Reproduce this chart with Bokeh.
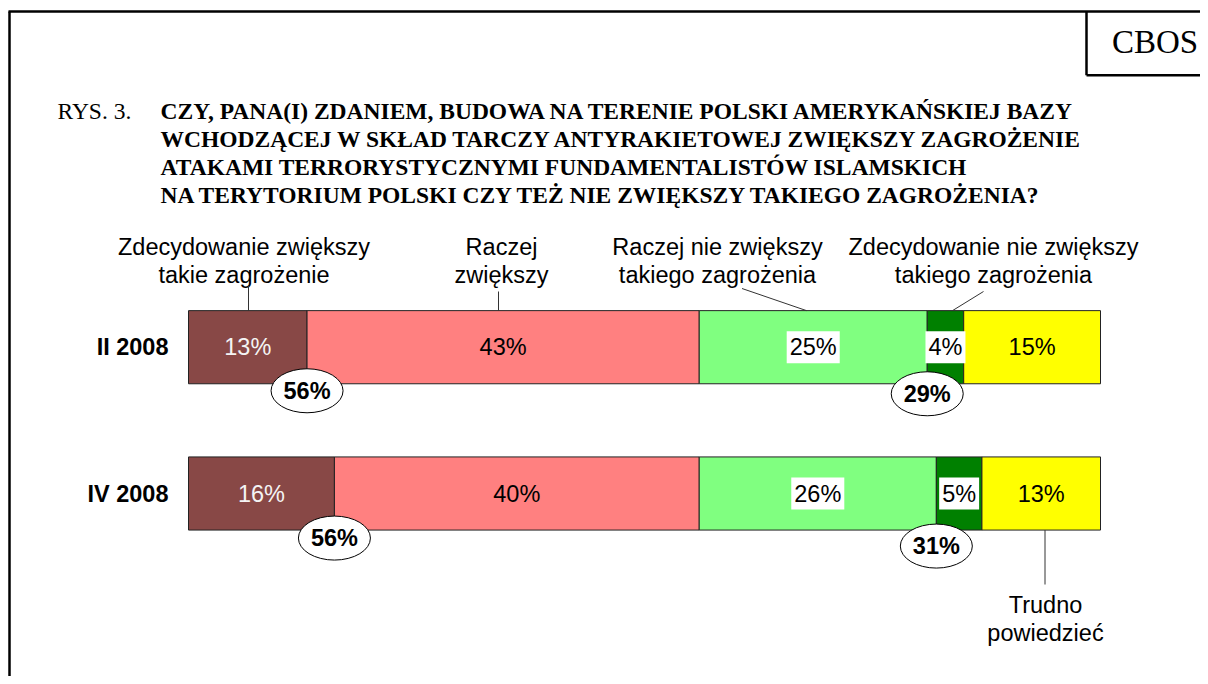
from bokeh.plotting import figure
from bokeh.models import Range1d
from bokeh.core.properties import value
from bokeh.embed import file_html
from bokeh.resources import INLINE

# ---------------- data ----------------
periods = ["II 2008", "IV 2008"]
categories = [
    "Zdecydowanie zwiększy takie zagrożenie",
    "Raczej zwiększy",
    "Raczej nie zwiększy takiego zagrożenia",
    "Zdecydowanie nie zwiększy takiego zagrożenia",
    "Trudno powiedzieć",
]
values_ii = [13, 43, 25, 4, 15]
values_iv = [16, 40, 26, 5, 13]
sum_increase = [56, 56]
sum_not_increase = [29, 31]

title_lines = [
    "CZY, PANA(I) ZDANIEM, BUDOWA NA TERENIE POLSKI AMERYKAŃSKIEJ BAZY",
    "WCHODZĄCEJ W SKŁAD TARCZY ANTYRAKIETOWEJ ZWIĘKSZY ZAGROŻENIE",
    "ATAKAMI TERRORYSTYCZNYMI FUNDAMENTALISTÓW ISLAMSKICH",
    "NA TERYTORIUM POLSKI CZY TEŻ NIE ZWIĘKSZY TAKIEGO ZAGROŻENIA?",
]
header_lines = [
    ["Zdecydowanie zwiększy", "takie zagrożenie"],
    ["Raczej", "zwiększy"],
    ["Raczej nie zwiększy", "takiego zagrożenia"],
    ["Zdecydowanie nie zwiększy", "takiego zagrożenia"],
]
bottom_lines = ["Trudno", "powiedzieć"]

# ---------------- styles ----------------
colors = ["#884846", "#FF8080", "#80FF80", "#008000", "#FFFF00"]
value_text_colors = ["#F4F4F4", "black", "black", "black", "black"]
value_boxed = [False, False, True, True, False]
SANS = value("Liberation Sans")
SERIF = value("Liberation Serif")
FS = "23.5px"
TFS = "23.5px"

W, H = 1200, 676
X0, SX = 188.0, 9.12      # pixel of 0 %, pixels per %
Y0, SY = 346.7, 146.3     # pixel of row 0 centre, pixels per row


def fx(ix):
    return (ix - X0) / SX


def fy(iy):
    return (iy - Y0) / SY


p = figure(width=W, height=H, x_range=Range1d(fx(0), fx(W)),
           y_range=Range1d(fy(H), fy(0)),
           output_backend="svg", toolbar_location=None, min_border=0,
           x_axis_location=None, y_axis_location=None)
p.grid.visible = False
p.outline_line_color = None
p.background_fill_color = "white"

# frame and CBOS box
p.segment(x0=[fx(9), fx(8)], y0=[fy(11), fy(11)], x1=[fx(9), fx(1210)], y1=[fy(700), fy(11)],
          line_color="black", line_width=2.5)
p.segment(x0=[fx(1086), fx(1086)], y0=[fy(11), fy(74.7)], x1=[fx(1086), fx(1210)], y1=[fy(74.7), fy(74.7)],
          line_color="black", line_width=2.5)
p.text(x=[fx(1154.5)], y=[fy(41)], text=["CBOS"], text_font=SERIF, text_font_size="33px",
       text_align="center", text_baseline="middle", text_color="black")

# title
p.text(x=[fx(57)], y=[fy(110)], text=["RYS. 3."], text_font=SERIF, text_font_size=TFS,
       text_baseline="middle", text_color="black")
p.text(x=[fx(160)] * 4, y=[fy(110), fy(138), fy(166), fy(194)], text=title_lines,
       text_font=SERIF, text_font_size=TFS, text_font_style="bold",
       text_baseline="middle", text_color="black")

# bars
for r, vals in enumerate([values_ii, values_iv]):
    lefts, rights = [], []
    acc = 0
    for v in vals:
        lefts.append(acc)
        acc += v
        rights.append(acc)
    p.hbar(y=[r] * len(vals), left=lefts, right=rights, height=0.5,
           fill_color=colors, line_color="#222222", line_width=1)
    mids = [(a + b) / 2 for a, b in zip(lefts, rights)]
    for i, v in enumerate(vals):
        kw = {}
        if value_boxed[i]:
            kw = dict(background_fill_color="white", padding=3)
        p.text(x=[mids[i]], y=[r], text=[f"{v}%"], text_font=SANS, text_font_size=FS,
               text_align="center", text_baseline="middle", text_color=value_text_colors[i], **kw)

# row labels
p.text(x=[fx(168)] * 2, y=[0, 1], text=periods, text_font=SANS, text_font_size=FS,
       text_font_style="bold", text_align="right", text_baseline="middle", text_color="black")

# ellipses with sums
ell_x = []
ell_t = []
for r in range(2):
    vals = [values_ii, values_iv][r]
    ell_x += [vals[0], vals[0] + vals[1] + vals[2]]
    ell_t += [f"{sum_increase[r]}%", f"{sum_not_increase[r]}%"]
ell_y = [0.25 + 7 / SY, 0.25 + 10 / SY, 1.25 + 8 / SY, 1.25 + 16 / SY]
p.ellipse(x=ell_x, y=ell_y, width=72, height=44, width_units="screen", height_units="screen",
          fill_color="white", line_color="black", line_width=1)
p.text(x=ell_x, y=ell_y, text=ell_t, text_font=SANS, text_font_size=FS, text_font_style="bold",
       text_align="center", text_baseline="middle", text_color="black")

# header labels
header_cx = [243.5, 501, 717, 993]
for cx, lines in zip(header_cx, header_lines):
    p.text(x=[fx(cx)] * 2, y=[fy(246), fy(274)], text=lines, text_font=SANS, text_font_size=FS,
           text_align="center", text_baseline="middle", text_color="black")
p.text(x=[fx(1045)] * 2, y=[fy(604), fy(632)], text=bottom_lines, text_font=SANS, text_font_size=FS,
       text_align="center", text_baseline="middle", text_color="black")

# leader lines
p.segment(x0=[fx(248), fx(498), fx(741.5), fx(983), fx(1044.5)],
          y0=[fy(285), fy(291), fy(288), fy(291), 1.25],
          x1=[fx(248), fx(498), fx(806), fx(952), fx(1044.5)],
          y1=[-0.25, -0.25, -0.25, -0.25, fy(584)],
          line_color="#333333", line_width=1)

open("out.html", "w").write(file_html(p, INLINE))
